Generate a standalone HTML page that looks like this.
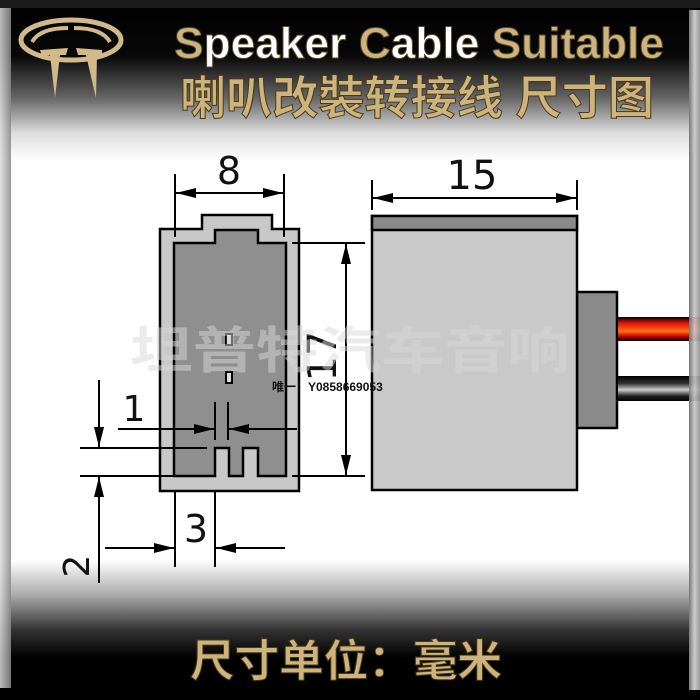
<!DOCTYPE html>
<html><head><meta charset="utf-8"><style>
html,body{margin:0;padding:0;background:#000;}
svg{display:block;}
</style></head><body>
<svg width="700" height="700" viewBox="0 0 700 700" xmlns="http://www.w3.org/2000/svg">
<defs>
<linearGradient id="bg" x1="0" y1="0" x2="0" y2="1">
<stop offset="0" stop-color="#000"/>
<stop offset="0.08" stop-color="#080808"/>
<stop offset="0.14" stop-color="#666"/>
<stop offset="0.19" stop-color="#ddd"/>
<stop offset="0.23" stop-color="#fff"/>
<stop offset="0.8" stop-color="#fff"/>
<stop offset="0.85" stop-color="#aaa"/>
<stop offset="0.9" stop-color="#333"/>
<stop offset="0.94" stop-color="#000"/>
<stop offset="1" stop-color="#000"/>
</linearGradient>
<linearGradient id="lb" x1="0" y1="0" x2="1" y2="0">
<stop offset="0" stop-color="#ddd"/><stop offset="1" stop-color="#888"/>
</linearGradient>
<linearGradient id="rb" x1="0" y1="0" x2="1" y2="0">
<stop offset="0" stop-color="#777"/><stop offset="0.5" stop-color="#ccc"/><stop offset="1" stop-color="#999"/>
</linearGradient>
<linearGradient id="red" x1="0" y1="0" x2="0" y2="1">
<stop offset="0" stop-color="#000"/><stop offset="0.25" stop-color="#e01010"/><stop offset="0.6" stop-color="#ff7010"/><stop offset="0.8" stop-color="#c00"/><stop offset="1" stop-color="#000"/>
</linearGradient>
<linearGradient id="blk" x1="0" y1="0" x2="0" y2="1">
<stop offset="0" stop-color="#000"/><stop offset="0.3" stop-color="#333"/><stop offset="0.55" stop-color="#ccc"/><stop offset="0.8" stop-color="#222"/><stop offset="1" stop-color="#000"/>
</linearGradient>
<marker id="a" viewBox="0 0 20 10" refX="20" refY="5" markerWidth="20" markerHeight="10" orient="auto-start-reverse" markerUnits="userSpaceOnUse">
<path d="M0,0 L20,5 L0,10 z" fill="#000"/>
</marker>
</defs>
<rect width="700" height="700" fill="url(#bg)"/>
<rect x="0" y="8" width="11" height="680" fill="url(#lb)" opacity="0.85"/>
<rect x="689" y="10" width="11" height="680" fill="url(#rb)"/>
<rect x="0" y="0" width="700" height="8" fill="#1a1a1a"/>

<g fill="none" stroke="#d2b98a">
<ellipse cx="71" cy="40" rx="50" ry="20" stroke-width="5"/>
<path d="M32 42 Q40 28 68 28 M110 42 Q102 28 74 28" stroke-width="4"/>
</g>
<g fill="#d2b98a">
<path d="M40 50 L68 48 L66 55 L60 55 L55 98 L50 55 L42 56 z"/>
<path d="M102 50 L76 48 L78 55 L86 55 L96 98 L97 55 L102 56 z"/>
</g>

<text x="174" y="58" font-family="'Liberation Sans Narrow','Liberation Sans',sans-serif" font-weight="bold" font-size="44" textLength="490" lengthAdjust="spacingAndGlyphs" fill="#cdb47c" stroke="#5a4a2a" stroke-width="1">S<tspan fill="#fff">peaker </tspan>C<tspan fill="#fff">able </tspan>Suitable</text>
<text x="180" y="114" font-family="'Liberation Sans','Noto Sans CJK SC',sans-serif" font-weight="bold" font-size="46" fill="#cdb47c" stroke="#4a3a1a" stroke-width="1" textLength="474" lengthAdjust="spacingAndGlyphs">喇叭改裝转接线 尺寸图</text>

<path d="M160 229 H202 V215 H272 V229 H299 V491 H160 z" fill="#c8c8c8" stroke="#000" stroke-width="2.5"/>
<path d="M174 243 H215 V230 H258 V243 H286 V476 H258 V448 H243 V476 H229 V448 H215 V476 H174 z" fill="#8f8f8f" stroke="#000" stroke-width="2.5"/>
<rect x="226" y="334" width="6" height="11" fill="#ddd" stroke="#000" stroke-width="2"/>
<rect x="226" y="372" width="6" height="11" fill="#ddd" stroke="#000" stroke-width="2"/>

<rect x="577" y="292" width="40" height="136" fill="#8a8a8a" stroke="#000" stroke-width="2.5"/>
<rect x="618" y="317" width="82" height="24" fill="url(#red)"/>
<rect x="618" y="376" width="82" height="25" fill="url(#blk)"/>
<rect x="689" y="300" width="11" height="110" fill="url(#rb)" opacity="0.9"/>
<rect x="372" y="216" width="205" height="274" fill="#c9c9c9" stroke="#000" stroke-width="2.5"/>
<rect x="372" y="216" width="205" height="14" fill="#8a8a8a" stroke="#000" stroke-width="2.5"/>

<g stroke="#000" stroke-width="2" fill="none">
<line x1="175" y1="174" x2="175" y2="237"/><line x1="284" y1="174" x2="284" y2="237"/>
<line x1="176" y1="193" x2="283" y2="193" marker-start="url(#a)" marker-end="url(#a)"/>
<line x1="292" y1="243" x2="365" y2="243"/><line x1="292" y1="476" x2="365" y2="476"/>
<line x1="346" y1="244" x2="346" y2="475" marker-start="url(#a)" marker-end="url(#a)"/>
<line x1="118" y1="429" x2="214" y2="429" marker-end="url(#a)"/>
<line x1="297" y1="429" x2="229" y2="429" marker-end="url(#a)"/>
<line x1="215" y1="402" x2="215" y2="440"/><line x1="228" y1="402" x2="228" y2="440"/>
<line x1="80" y1="448" x2="207" y2="448"/><line x1="80" y1="476" x2="174" y2="476"/>
<line x1="99" y1="380" x2="99" y2="447" marker-end="url(#a)"/>
<line x1="99" y1="583" x2="99" y2="477" marker-end="url(#a)"/>
<line x1="175" y1="491" x2="175" y2="567"/><line x1="215" y1="491" x2="215" y2="567"/>
<line x1="105" y1="548" x2="174" y2="548" marker-end="url(#a)"/>
<line x1="285" y1="548" x2="216" y2="548" marker-end="url(#a)"/>
<line x1="372" y1="180" x2="372" y2="210"/><line x1="577" y1="180" x2="577" y2="210"/>
<line x1="373" y1="198" x2="576" y2="198" marker-start="url(#a)" marker-end="url(#a)"/>
</g>
<g font-family="'DejaVu Sans','Liberation Sans',sans-serif" fill="#111">
<text x="229" y="184" text-anchor="middle" font-size="38">8</text>
<text x="472" y="189" text-anchor="middle" font-size="40">15</text>
<text x="134" y="421" text-anchor="middle" font-size="36">1</text>
<text x="196" y="542" text-anchor="middle" font-size="38">3</text>
<text transform="translate(89,566) rotate(-90)" text-anchor="middle" font-size="36">2</text>
<text transform="translate(336,356) rotate(-90)" text-anchor="middle" font-size="40">17</text>
</g>

<text x="130" y="368" font-family="'Liberation Sans','Noto Sans CJK SC',sans-serif" font-weight="bold" font-size="50" fill="#d8d8d8" opacity="0.5" textLength="440" lengthAdjust="spacingAndGlyphs">坦普特汽车音响</text>
<text x="272" y="391" font-family="'Liberation Sans','Noto Sans CJK SC',sans-serif" font-size="12" font-weight="bold" fill="#111">唯一：Y0858669053</text>

<text x="190" y="676" font-family="'Liberation Sans','Noto Sans CJK SC',sans-serif" font-weight="bold" font-size="44" fill="#cdb47c" stroke="#4a3a1a" stroke-width="1" textLength="312" lengthAdjust="spacingAndGlyphs">尺寸单位：毫米</text>
</svg>
</body></html>
